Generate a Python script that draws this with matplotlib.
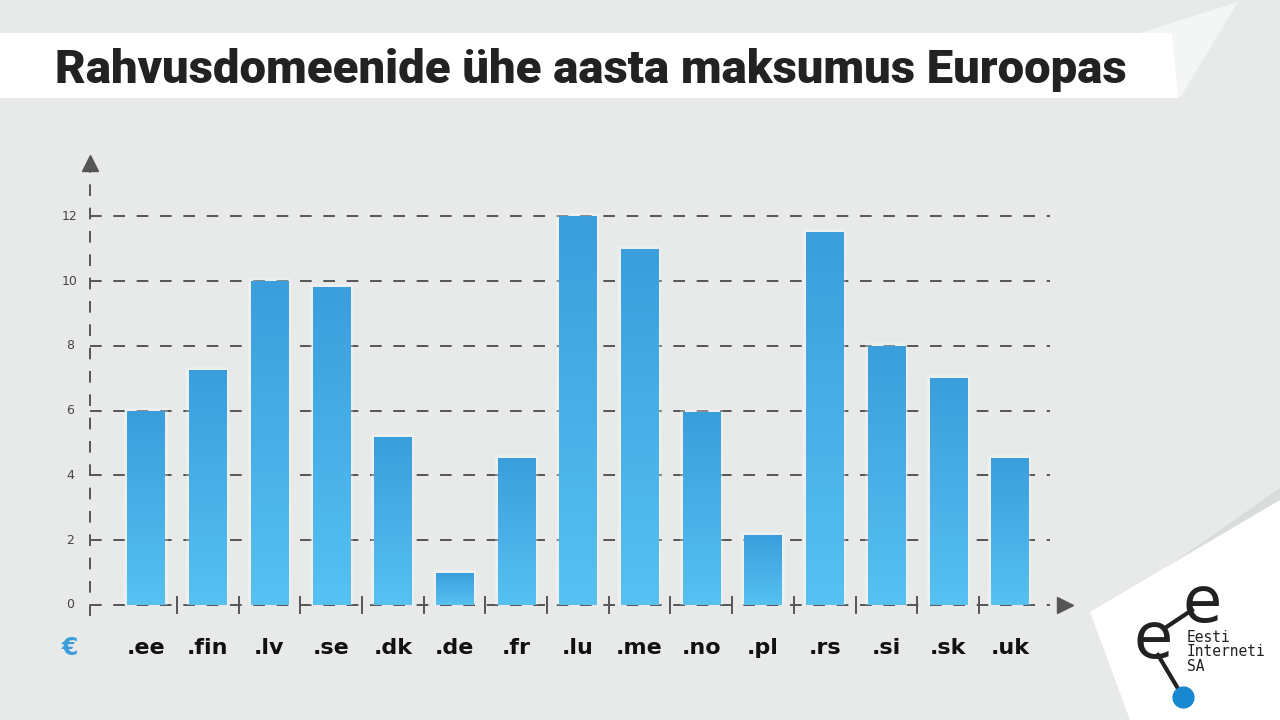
import matplotlib.pyplot as plt
import numpy as np
from matplotlib.colors import LinearSegmentedColormap
from matplotlib.patches import Polygon
from matplotlib.lines import Line2D

domains = [".ee", ".fin", ".lv", ".se", ".dk", ".de", ".fr", ".lu",
           ".me", ".no", ".pl", ".rs", ".si", ".sk", ".uk"]
prices = [6.0, 7.25, 10.0, 9.8, 5.2, 1.0, 4.55, 12.0,
          11.0, 5.95, 2.15, 11.5, 8.0, 7.0, 4.55]
yticks = [0, 2, 4, 6, 8, 10, 12]
title = "Rahvusdomeenide ühe aasta maksumus Euroopas"

W, H = 1280, 720
fig = plt.figure(figsize=(12.8, 7.2), dpi=100)
fig.patch.set_facecolor("#e8eaea")


def fp(pts):
    return [(x / W, 1 - y / H) for x, y in pts]


# background decorations
fig.add_artist(Polygon(fp([(1140, 33), (1238, 2), (1180, 98)]),
                       closed=True, transform=fig.transFigure,
                       facecolor="#f4f5f5", edgecolor="none"))
fig.add_artist(Polygon(fp([(0, 33), (1172, 33), (1178, 98), (0, 98)]),
                       closed=True, transform=fig.transFigure,
                       facecolor="white", edgecolor="none"))
fig.add_artist(Polygon(fp([(1170, 565), (1280, 488), (1280, 520)]),
                       closed=True, transform=fig.transFigure,
                       facecolor="#d9dcdc", edgecolor="none"))
fig.add_artist(Polygon(fp([(1090, 612), (1280, 500), (1280, 720), (1130, 720)]),
                       closed=True, transform=fig.transFigure,
                       facecolor="white", edgecolor="none"))

fig.text(55 / W, 1 - 70 / H, title, fontsize=34, fontweight="black",
         family=["Roboto", "DejaVu Sans"], color="#222222",
         ha="left", va="center")

# chart area: y-axis at x=90px, zero at y=605px
unit_x = 61.7
unit_y = 32.4
x0 = -56 / unit_x
ax = fig.add_axes([90 / W, 1 - 605 / H, 970 / W, 430 / H])
ax.set_xlim(x0, x0 + 970 / unit_x)
ax.set_ylim(0, 430 / unit_y)
ax.set_facecolor("none")
ax.axis("off")

grid_col = "#555555"
for t in yticks:
    ax.plot([x0, x0 + 960 / unit_x], [t, t], color=grid_col, lw=1.4,
            dashes=(6, 6), clip_on=False, zorder=1)
    ax.text(x0 - 20 / unit_x, t, str(t), ha="center", va="center",
            fontsize=9, color="#444444")

# y axis with arrow
ax.plot([x0, x0], [-0.35, 13.4], color=grid_col, lw=1.4,
        dashes=(6, 6), clip_on=False, zorder=1)
ax.plot([x0], [13.65], marker="^", ms=11, color=grid_col, clip_on=False)
ax.plot([x0 + 975 / unit_x], [0], marker=">", ms=11, color=grid_col,
        clip_on=False)

# small tick marks between bars
for i in range(len(domains) - 1):
    ax.plot([i + 0.5, i + 0.5], [-0.25, 0.25], color=grid_col, lw=1.4,
            clip_on=False, zorder=1)

# soft white glow behind bars
xs = np.arange(len(domains))
ax.bar(xs, prices, width=0.6, color="none", edgecolor="white", lw=4,
       alpha=0.3, zorder=1.5)

cmap = LinearSegmentedColormap.from_list("bars", ["#56c1f2", "#3a9edb"])
grad = np.linspace(0, 1, 256).reshape(-1, 1)
bars = ax.bar(xs, prices, width=0.6, color="#47afe6", zorder=2)
for b in bars:
    x, y = b.get_x(), b.get_y()
    w, h = b.get_width(), b.get_height()
    im = ax.imshow(grad, extent=[x, x + w, 0, h], origin="lower",
                   aspect="auto", cmap=cmap, zorder=3)
    im.set_clip_path(b)

for i, d in enumerate(domains):
    ax.text(i, -43 / unit_y, d, ha="center", va="center", fontsize=16,
            fontweight="heavy", color="#111111", clip_on=False)
ax.text(x0 - 20 / unit_x, -43 / unit_y, "€", ha="center", va="center",
        fontsize=17, fontweight="heavy", color="#3a9edb", clip_on=False)

# logo
fig.add_artist(Line2D([1165 / W, 1192 / W], [1 - 628 / H, 1 - 610 / H],
                      color="#222222", lw=3))
fig.add_artist(Line2D([1158 / W, 1183 / W], [1 - 655 / H, 1 - 697 / H],
                      color="#222222", lw=3))
fig.add_artist(Line2D([1183 / W], [1 - 697 / H], marker="o", ms=16,
                      color="#1a88d0", mec="none"))
fig.text(1153 / W, 1 - 640 / H, "e", fontsize=46,
         color="#222222", ha="center", va="center")
fig.text(1202 / W, 1 - 604 / H, "e", fontsize=46,
         color="#222222", ha="center", va="center")
fig.text(1187 / W, 1 - 652 / H, "Eesti\nInterneti\nSA",
         family="DejaVu Sans Mono", fontsize=10.5, color="#222222",
         ha="left", va="center", linespacing=0.92)

fig.savefig("out.png", dpi=100, facecolor=fig.get_facecolor())
